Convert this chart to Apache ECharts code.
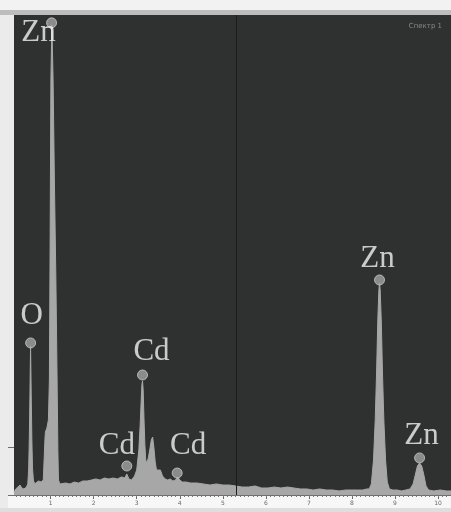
<!DOCTYPE html>
<html>
<head>
<meta charset="utf-8">
<script src="https://cdn.jsdelivr.net/npm/echarts@6/dist/echarts.min.js"></script>
<style>html,body{margin:0;padding:0;background:#ebebeb;}#c{width:451px;height:512px;}</style>
</head>
<body>
<div id="c"></div>
<script>
// Spectrum energies (keV) and counts
const spectrumKeV = [0.15,0.19,0.24,0.29,0.33,0.38,0.44,0.47,0.49,0.505,0.52,0.535,0.55,0.565,0.58,0.60,0.63,
  0.66,0.72,0.78,0.83,0.856,0.868,0.879,0.914,0.949,0.972,0.988,1.007,1.03,1.058,1.088,1.123,1.151,1.169,1.183,1.216,
  1.25,1.35,1.45,1.55,1.65,1.75,1.85,1.95,2.05,2.15,2.25,2.35,2.45,2.55,2.65,2.72,2.77,2.82,2.88,2.95,
  3.00,3.05,3.08,3.105,3.12,3.135,3.15,3.17,3.19,3.21,3.235,3.27,3.31,3.34,3.37,3.40,3.43,3.46,3.50,3.55,3.60,3.66,3.72,3.78,3.84,3.90,3.955,4.00,4.06,
  4.15,4.25,4.40,4.55,4.70,4.85,5.00,5.15,5.30,5.45,5.60,5.75,5.90,6.05,6.20,6.35,6.50,6.65,6.80,6.95,7.10,7.25,7.40,7.55,7.70,7.85,8.00,8.15,8.25,8.35,
  8.40,8.45,8.50,8.54,8.57,8.60,8.625,8.64,8.655,8.68,8.71,8.74,8.78,8.82,8.87,8.95,9.05,9.15,9.25,9.35,
  9.42,9.47,9.52,9.57,9.62,9.67,9.72,9.78,9.90,10.05,10.20,10.30];
const spectrumCounts = [31,63,83,104,73,63,83,115,260,573,1042,1553,1042,573,281,156,115,
  135,146,135,156,156,573,656,698,781,1198,2553,4324,4897,4324,3282,2240,1198,469,156,115,
  104,125,115,135,125,146,146,156,167,156,177,167,177,167,188,177,219,167,156,198,
  260,469,729,990,1146,1188,1094,782,521,365,333,386,490,573,604,490,344,260,250,260,198,167,156,167,146,156,188,156,135,
  135,125,125,115,104,115,104,104,94,83,83,94,73,73,83,73,83,73,63,63,52,63,52,52,42,52,52,52,52,63,
  63,115,365,782,1250,1823,2136,2209,2136,1823,1250,782,365,135,63,52,52,42,52,63,
  115,208,302,333,302,208,94,52,42,52,42,42];

// Peak markers
const peakLabels = ['Zn','O','Cd','Cd','Cd','Zn','Zn'];
const peakKeV =    [1.023,0.536,3.135,2.77,3.94,8.64,9.57];
const peakCounts = [4918,1584,1250,302,229,2240,386];

// Axis tick labels
const xTickValues = [1,2,3,4,5,6,7,8,9,10];
const cursorKeV = 5.32;
const spectrumTitle = 'Спектр 1';

// label offsets (style, px)
const labelOffsets = [[-13,10],[1,-27],[9,-23],[-10,-20],[11,-27],[-2,-21],[2,-22]];

const minorTicks = [];
for (let i = 2; i <= 102; i++) minorTicks.push(i / 10);

const chart = echarts.init(document.getElementById('c'), null, {renderer: 'canvas'});
chart.setOption({
  animation: false,
  backgroundColor: '#ebebeb',
  title: {
    text: spectrumTitle, right: 4, top: 18,
    textStyle: {color: '#8a8a8a', fontSize: 7, fontWeight: 'normal', fontFamily: 'DejaVu Sans'}
  },
  graphic: [
    {type: 'rect', z: -5, shape: {x: 0, y: 0, width: 451, height: 10}, style: {fill: '#f2f2f2'}},
    {type: 'rect', z: -5, shape: {x: 0, y: 10, width: 451, height: 5}, style: {fill: '#bdbdbd'}},
    {type: 'rect', z: -5, shape: {x: 8, y: 496, width: 443, height: 12}, style: {fill: '#f7f7f7'}},
    {type: 'rect', z: -5, shape: {x: 0, y: 508, width: 451, height: 4}, style: {fill: '#dedede'}}
  ],
  grid: {left: 14, right: 0, top: 15, bottom: 17, show: true, backgroundColor: '#2f3030', borderWidth: 0},
  xAxis: [{
    type: 'value', min: 0.15, max: 10.3,
    axisLine: {show: true, lineStyle: {color: '#6e6e6e', width: 1}},
    axisTick: {show: true, customValues: xTickValues, length: 4, lineStyle: {color: '#666'}},
    axisLabel: {show: true, customValues: xTickValues, color: '#6a6a6a', fontSize: 6, margin: 5, fontFamily: 'DejaVu Sans'},
    splitLine: {show: false}
  }, {
    type: 'value', min: 0.15, max: 10.3, position: 'bottom',
    axisLine: {show: false},
    axisTick: {show: true, customValues: minorTicks, length: 2, lineStyle: {color: '#777'}},
    axisLabel: {show: false},
    splitLine: {show: false}
  }],
  yAxis: {
    type: 'value', min: 0, max: 5000,
    axisLine: {show: false},
    axisTick: {show: true, customValues: [0, 500], length: 6, lineStyle: {color: '#6e6e6e'}},
    axisLabel: {show: false},
    splitLine: {show: false}
  },
  series: [{
    type: 'line',
    data: spectrumKeV.map((k, i) => [k, spectrumCounts[i]]),
    symbol: 'none',
    lineStyle: {color: '#a7a7a7', width: 1},
    areaStyle: {color: '#a7a7a7', opacity: 1},
    markLine: {
      silent: true, symbol: ['none', 'none'], label: {show: false},
      lineStyle: {color: '#1c1c1c', type: 'solid', width: 1},
      data: [{xAxis: cursorKeV}]
    },
    z: 2
  }, {
    type: 'scatter',
    data: peakKeV.map((k, i) => ({
      value: [k, peakCounts[i]],
      label: {offset: labelOffsets[i]}
    })),
    symbol: 'circle', symbolSize: 10,
    itemStyle: {color: '#a3a3a3', borderColor: '#c9c9c9', borderWidth: 1},
    label: {
      show: true, position: 'inside',
      formatter: p => peakLabels[p.dataIndex],
      fontFamily: 'Liberation Serif', fontSize: 31, color: '#f2f2f2',
      align: 'center', verticalAlign: 'middle'
    },
    z: 5
  }]
});
</script>
</body>
</html>
